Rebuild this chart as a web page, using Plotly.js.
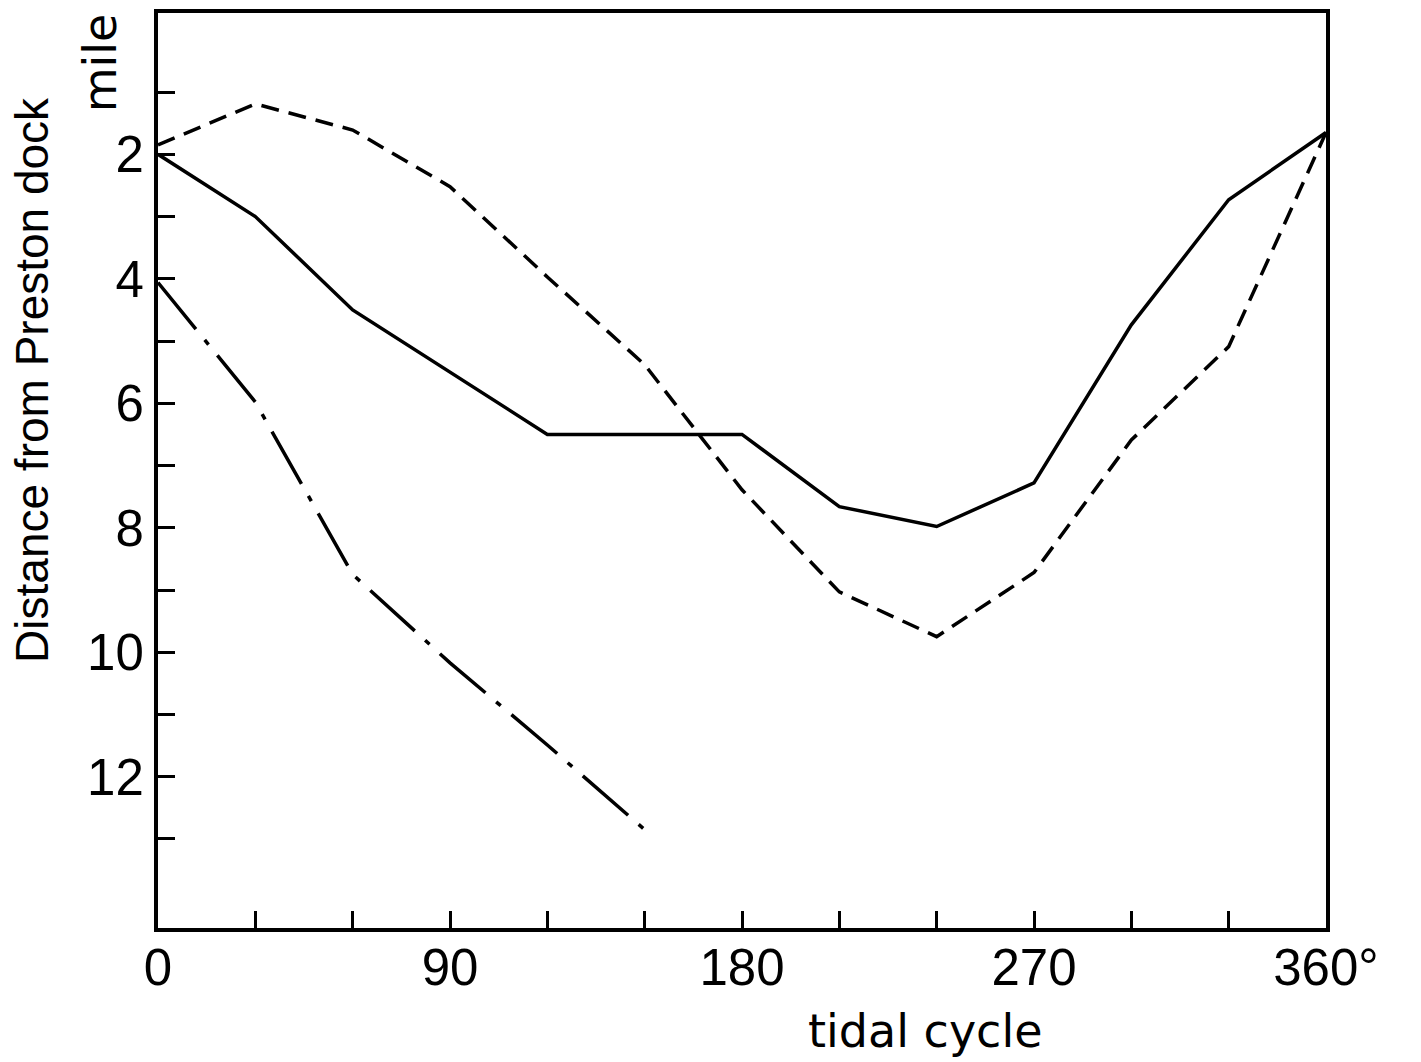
<!DOCTYPE html>
<html>
<head>
<meta charset="utf-8">
<script src="https://cdn.plot.ly/plotly-3.0.1.min.js"></script>
<style>html,body{margin:0;padding:0;background:#fff;}#chart{width:1421px;height:1062px;}</style>
</head>
<body>
<div id="chart"></div>
<script>
// Tidal cycle phase (degrees)
const phase = [0, 30, 60, 90, 120, 150, 180, 210, 240, 270, 300, 330, 360];
const phaseShort = [0, 30, 60, 90, 120, 150];
// Distance from Preston dock (mile)
const solidLine = [2.0, 3.0, 4.5, 5.5, 6.5, 6.5, 6.5, 7.66, 7.98, 7.28, 4.74, 2.73, 1.65];
const dashedLine = [1.85, 1.19, 1.61, 2.52, 3.97, 5.38, 7.39, 9.03, 9.75, 8.72, 6.59, 5.09, 1.65];
const dashDotLine = [4.06, 5.98, 8.75, 10.17, 11.49, 12.85];

const xTickVals = [0, 30, 60, 90, 120, 150, 180, 210, 240, 270, 300, 330, 360];
const xTickText = ['0', '', '', '90', '', '', '180', '', '', '270', '', '', '360°'];
const yTickVals = [1, 2, 3, 4, 5, 6, 7, 8, 9, 10, 11, 12, 13];
const yTickText = ['', '2', '', '4', '', '6', '', '8', '', '10', '', '12', ''];

const traces = [
  {x: phase, y: solidLine, mode: 'lines', line: {color: '#000', width: 3.5}},
  {x: phase, y: dashedLine, mode: 'lines', line: {color: '#000', width: 3.5, dash: '18px,10px'}},
  {x: phaseShort, y: dashDotLine, mode: 'lines', line: {color: '#000', width: 3.5, dash: '60px,14px,6px,14px'}}
];

const tickFont = {family: 'Liberation Sans, Arial, sans-serif', size: 51, color: '#000'};

const layout = {
  width: 1421, height: 1062,
  margin: {l: 158, r: 95, t: 13, b: 134},
  paper_bgcolor: '#fff', plot_bgcolor: '#fff',
  showlegend: false,
  xaxis: {
    range: [0, 360], tickvals: xTickVals, ticktext: xTickText,
    ticks: 'inside', ticklen: 17, tickwidth: 3, tickcolor: '#000',
    showline: true, linewidth: 4, linecolor: '#000', mirror: true,
    showgrid: false, zeroline: false, tickfont: tickFont, ticklabelstandoff: -8
  },
  yaxis: {
    range: [14.43, -0.27], tickvals: yTickVals, ticktext: yTickText,
    ticks: 'inside', ticklen: 17, tickwidth: 3, tickcolor: '#000',
    showline: true, linewidth: 4, linecolor: '#000', mirror: true,
    showgrid: false, zeroline: false, tickfont: tickFont
  },
  annotations: [
    {text: 'mile', xref: 'paper', yref: 'paper', x: -0.0497, y: 0.946, textangle: -90,
     showarrow: false, xanchor: 'center', yanchor: 'middle',
     font: {family: 'DejaVu Sans, sans-serif', size: 46, color: '#000'}},
    {text: 'Distance from Preston dock', xref: 'paper', yref: 'paper', x: -0.1079, y: 0.599, textangle: -90,
     showarrow: false, xanchor: 'center', yanchor: 'middle',
     font: {family: 'Liberation Sans, Arial, sans-serif', size: 46, color: '#000'}},
    {text: 'tidal cycle', xref: 'paper', yref: 'paper', x: 0.6575, y: -0.1126,
     showarrow: false, xanchor: 'center', yanchor: 'middle',
     font: {family: 'DejaVu Sans, sans-serif', size: 46, color: '#000'}}
  ]
};

Plotly.newPlot('chart', traces, layout, {displayModeBar: false, staticPlot: true});
</script>
</body>
</html>
